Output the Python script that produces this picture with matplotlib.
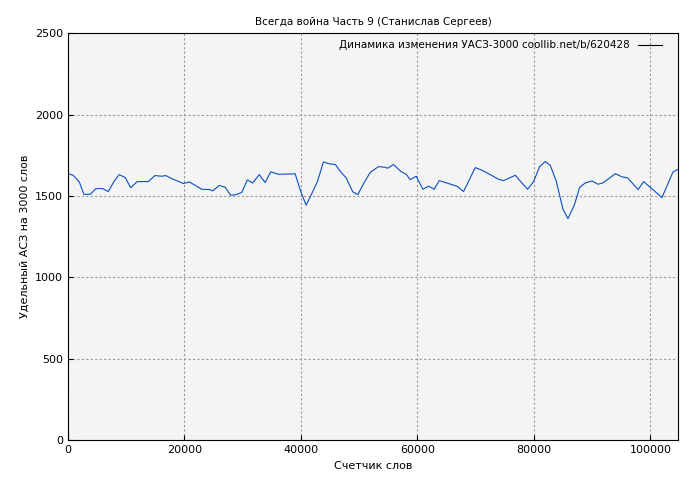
import matplotlib
matplotlib.use("Agg")
import matplotlib.pyplot as plt

words = [0, 900, 1950, 2750, 3850, 4800, 5960, 6930, 7900, 8800, 9850, 10770,
         11900, 13800, 14950, 16100, 16840, 17820, 18680, 19820, 20850, 21820,
         22970, 24400, 24860, 26000, 26980, 27950, 28870, 29840, 30810, 31730,
         32870, 33850, 34830, 36140, 38600, 39000, 40000, 40900, 41880, 42840,
         43870, 44900, 45930, 46740, 47770, 48920, 49780, 50740, 51890, 53320,
         54470, 54870, 55900, 57180, 58080, 58760, 59800, 60950, 61920, 62890,
         63750, 65350, 66790, 67930, 69940, 71080, 72510, 73940, 74800, 76810,
         77790, 78920, 79950, 80980, 81960, 82820, 83850, 85000, 85860, 86940,
         87860, 88830, 89980, 91010, 91870, 93990, 95140, 96100, 97890, 98850,
         102000, 103900, 104700]
uacs = [1637, 1627, 1586, 1510, 1510, 1545, 1545, 1527, 1588, 1631, 1613, 1551,
        1588, 1588, 1625, 1621, 1625, 1606, 1594, 1576, 1586, 1566,
        1541, 1539, 1531, 1564, 1554, 1504, 1508, 1521, 1598, 1580,
        1631, 1582, 1648, 1633, 1635, 1637, 1525, 1443, 1515, 1588,
        1709, 1697, 1693, 1652, 1611, 1525, 1508, 1574, 1644, 1680,
        1676, 1670, 1693, 1650, 1633, 1600, 1621, 1541, 1560, 1541,
        1594, 1576, 1560, 1527, 1674, 1658, 1631, 1602, 1594, 1627,
        1586, 1541, 1588, 1680, 1711, 1688, 1590, 1418, 1361, 1443,
        1552, 1580, 1592, 1572, 1580, 1637, 1617, 1611, 1539, 1588,
        1490, 1648, 1662]

fig, ax = plt.subplots(figsize=(7, 4.8), dpi=100)
fig.subplots_adjust(left=0.097, right=0.969, top=0.931, bottom=0.083)
ax.set_facecolor('#f4f4f4')
ax.plot(words, uacs, color='#0a4fbf', linewidth=0.8,
        label='Динамика изменения УАСЗ-3000 coollib.net/b/620428')
leg = ax.legend(loc='upper right', frameon=False, fontsize=7.5, markerfirst=False,
                handlelength=2.3, borderaxespad=0.3, bbox_to_anchor=(0.985, 1.0))
for line in leg.get_lines():
    line.set_color('black')
ax.set_xlim(0, 104800)
ax.set_ylim(0, 2500)
ax.set_xticks(range(0, 100001, 20000))
ax.set_yticks(range(0, 2501, 500))
ax.grid(True, color='#999999', linestyle=(0, (2, 2)), linewidth=0.8)
ax.tick_params(labelsize=8, direction='in')
ax.set_title('Всегда война Часть 9 (Станислав Сергеев)', fontsize=7.5)
ax.set_xlabel('Счетчик слов', fontsize=8)
ax.set_ylabel('Удельный АСЗ на 3000 слов', fontsize=8)
fig.savefig('out.png')
